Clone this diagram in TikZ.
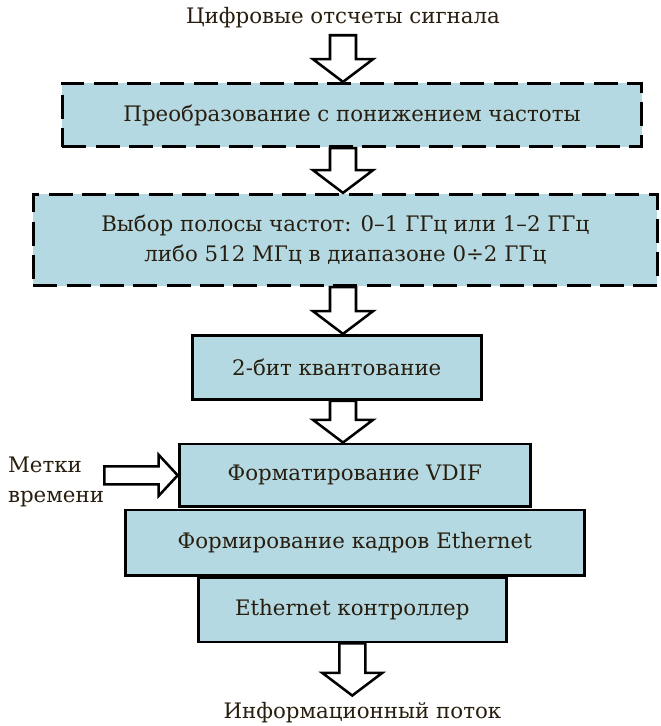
\documentclass[tikz,border=0pt]{standalone}
\usepackage{fontspec}
\setmainfont{DejaVu Serif}
\usetikzlibrary{calc}
\definecolor{boxblue}{RGB}{181,217,226}
\definecolor{inkdark}{RGB}{40,30,15}

\tikzstyle{block} = [rectangle,
minimum height=48pt,
text centered,
draw=black,
line width=2.2pt,
fill=boxblue,
text=inkdark]
\tikzstyle{dashblock} = [block,
dash pattern=on 18pt off 7pt]
\tikzstyle{caption} = [text=inkdark, inner sep=5pt]
\tikzstyle{hollow} = [draw=black, fill=white, line width=1.9pt, line join=miter]

% block arrow: start, end, half shaft, half head, head length
\newcommand{\hollowarrow}[5]{%
  \path (#1) coordinate (ha-s) (#2) coordinate (ha-e)
    ($(ha-e)!#5!(ha-s)$) coordinate (ha-b);
  \draw[hollow] ($(ha-s)!#3!90:(ha-e)$) -- ($(ha-b)!#3!90:(ha-e)$)
    -- ($(ha-b)!#4!90:(ha-e)$) -- (ha-e)
    -- ($(ha-b)!#4!-90:(ha-e)$) -- ($(ha-b)!#3!-90:(ha-e)$)
    -- ($(ha-s)!#3!-90:(ha-e)$) -- cycle;
}

\begin{document}
\begin{tikzpicture}[node distance=50.5pt, font=\fontsize{16}{22.5}\selectfont]
    \useasboundingbox (0,0) rectangle (495.75pt,-544.5pt);

    \node (title) [caption] at (257.25pt,-13.5pt) {Цифровые отсчеты сигнала};

    \node (conv) [dashblock, below of=title, minimum width=434.5pt, minimum height=47.5pt, xshift=6.75pt, yshift=-22.25pt] {Преобразование с понижением частоты};

    \node (band) [dashblock, below of=conv, minimum width=468pt, minimum height=68.5pt, align=center, xshift=-5pt, yshift=-43.25pt] {Выбор полосы частот: 0–1 ГГц или 1–2 ГГц\\
    либо 512 МГц в диапазоне 0÷2 ГГц};

    \node (quant) [block, below of=band, minimum width=217pt, xshift=-6.4pt, yshift=-45pt] {2-бит квантование};
    \node (vdif) [block, below of=quant, minimum width=263.5pt, minimum height=47pt, xshift=13.5pt, yshift=-30.5pt] {Форматирование VDIF};
    \node (frames) [block, below of=vdif, minimum width=344.5pt, minimum height=49pt] {Формирование кадров Ethernet};
    \node (ctrl) [block, below of=frames, minimum width=231pt, xshift=-1.9pt] {Ethernet контроллер};

    \node (flow) [caption, below of=ctrl, xshift=7.6pt, yshift=-26.6pt] {Информационный поток};
    \node (marks) [caption, left of=vdif, anchor=west, align=left, inner sep=0pt, xshift=-209.75pt, yshift=-4.9pt] {Метки\\времени};

    \hollowarrow{title.south}{conv.north -| title.south}{9.75pt}{22.5pt}{17pt}
    \hollowarrow{conv.south -| title.south}{band.north -| title.south}{9.75pt}{22.5pt}{17pt}
    \hollowarrow{band.south -| title.south}{quant.north -| title.south}{9.75pt}{22.5pt}{17pt}
    \hollowarrow{quant.south -| title.south}{vdif.north -| title.south}{9.75pt}{22.5pt}{17pt}
    \hollowarrow{ctrl.south}{flow.north -| ctrl.south}{9.75pt}{22.5pt}{17pt}
    \hollowarrow{marks.east |- vdif.west}{vdif.west}{6.75pt}{15.4pt}{14.25pt}
\end{tikzpicture}
\end{document}
